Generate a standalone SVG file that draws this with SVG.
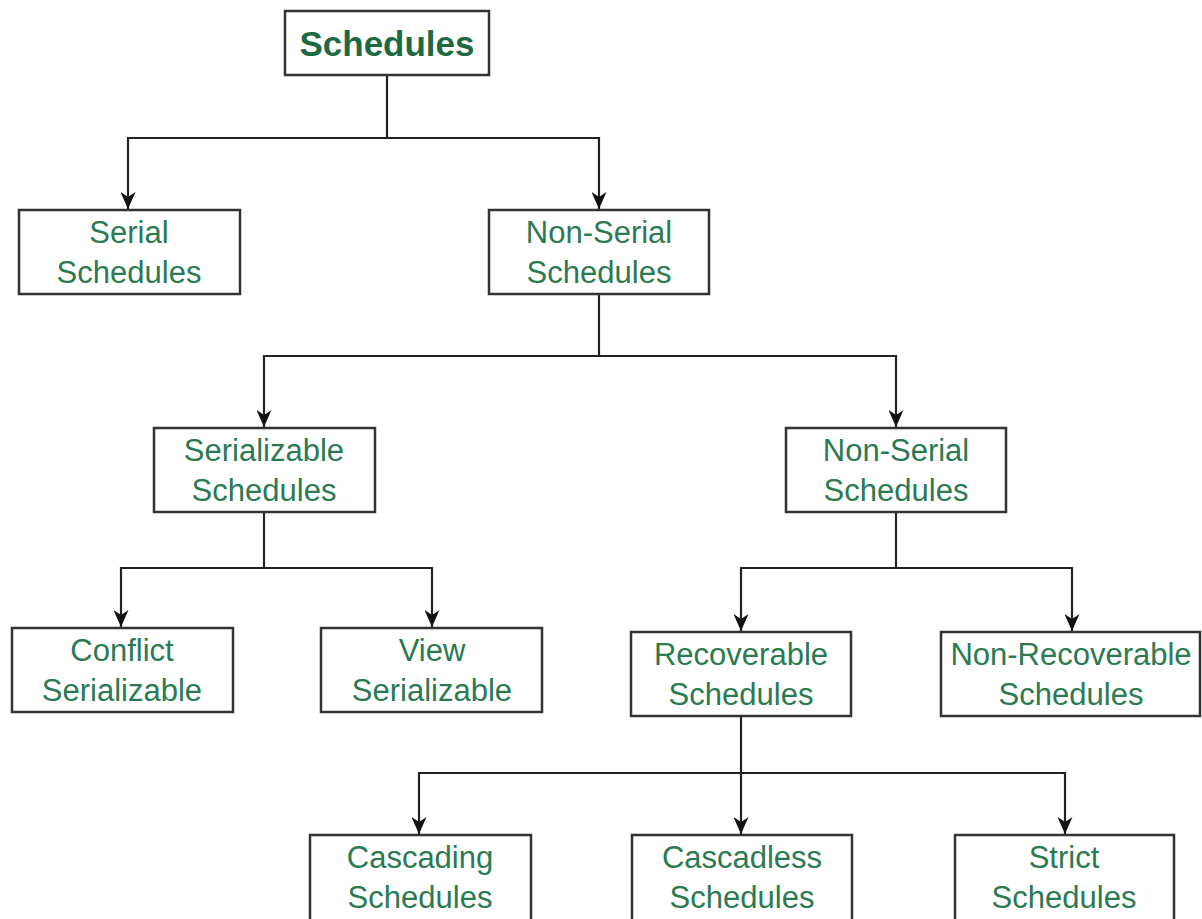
<svg xmlns="http://www.w3.org/2000/svg" width="1202" height="919" viewBox="0 0 1202 919">
<style>
.box{fill:#fff;stroke:#333;stroke-width:2.5}
.t{font-family:"Liberation Sans",Arial,sans-serif;font-size:31px;fill:#2b7a52;text-anchor:middle}
.tb{font-family:"Liberation Sans",Arial,sans-serif;font-size:35px;font-weight:bold;fill:#1d6a42;text-anchor:middle}
.c{fill:none;stroke:#222;stroke-width:2.2}
</style>
<defs>
<marker id="ah" markerWidth="17" markerHeight="15" refX="17" refY="7.5" orient="auto" markerUnits="userSpaceOnUse" viewBox="0 0 17 15">
<path d="M0,0 L17,7.5 L0,15 L5,7.5 Z" fill="#111"/>
</marker>
</defs>
<rect width="1202" height="919" fill="#fff"/>
<g id="connectors">
<path class="c" d="M387,75 V138"/>
<path class="c" d="M387,138 H128 V209" marker-end="url(#ah)"/>
<path class="c" d="M387,138 H599 V209" marker-end="url(#ah)"/>
<path class="c" d="M599,294 V356"/>
<path class="c" d="M599,356 H264 V427" marker-end="url(#ah)"/>
<path class="c" d="M599,356 H896 V427" marker-end="url(#ah)"/>
<path class="c" d="M264,512 V568"/>
<path class="c" d="M264,568 H121 V627" marker-end="url(#ah)"/>
<path class="c" d="M264,568 H432 V627" marker-end="url(#ah)"/>
<path class="c" d="M896,512 V568"/>
<path class="c" d="M896,568 H741 V631" marker-end="url(#ah)"/>
<path class="c" d="M896,568 H1072 V631" marker-end="url(#ah)"/>
<path class="c" d="M741,716 V834" marker-end="url(#ah)"/>
<path class="c" d="M741,773 H419 V834" marker-end="url(#ah)"/>
<path class="c" d="M741,773 H1065 V834" marker-end="url(#ah)"/>
</g>
<g id="schedules"><rect class="box" x="285" y="11" width="204" height="64"/><text class="tb" x="387" y="56">Schedules</text></g>
<g id="serial"><rect class="box" x="19" y="210" width="221" height="84"/><text class="t" x="129" y="243">Serial</text><text class="t" x="129" y="283">Schedules</text></g>
<g id="nonserial1"><rect class="box" x="489" y="210" width="220" height="84"/><text class="t" x="599" y="243">Non-Serial</text><text class="t" x="599" y="283">Schedules</text></g>
<g id="serializable"><rect class="box" x="154" y="428" width="221" height="84"/><text class="t" x="264" y="461">Serializable</text><text class="t" x="264" y="501">Schedules</text></g>
<g id="nonserial2"><rect class="box" x="786" y="428" width="220" height="84"/><text class="t" x="896" y="461">Non-Serial</text><text class="t" x="896" y="501">Schedules</text></g>
<g id="conflict"><rect class="box" x="12" y="628" width="221" height="84"/><text class="t" x="122" y="661">Conflict</text><text class="t" x="122" y="701">Serializable</text></g>
<g id="view"><rect class="box" x="321" y="628" width="221" height="84"/><text class="t" x="432" y="661">View</text><text class="t" x="432" y="701">Serializable</text></g>
<g id="recoverable"><rect class="box" x="631" y="632" width="220" height="84"/><text class="t" x="741" y="665">Recoverable</text><text class="t" x="741" y="705">Schedules</text></g>
<g id="nonrecoverable"><rect class="box" x="941" y="632" width="259" height="84"/><text class="t" x="1071" y="665">Non-Recoverable</text><text class="t" x="1071" y="705">Schedules</text></g>
<g id="cascading"><rect class="box" x="310" y="835" width="221" height="90"/><text class="t" x="420" y="868">Cascading</text><text class="t" x="420" y="908">Schedules</text></g>
<g id="cascadeless"><rect class="box" x="632" y="835" width="220" height="90"/><text class="t" x="742" y="868">Cascadless</text><text class="t" x="742" y="908">Schedules</text></g>
<g id="strict"><rect class="box" x="955" y="835" width="219" height="90"/><text class="t" x="1064" y="868">Strict</text><text class="t" x="1064" y="908">Schedules</text></g>
</svg>
